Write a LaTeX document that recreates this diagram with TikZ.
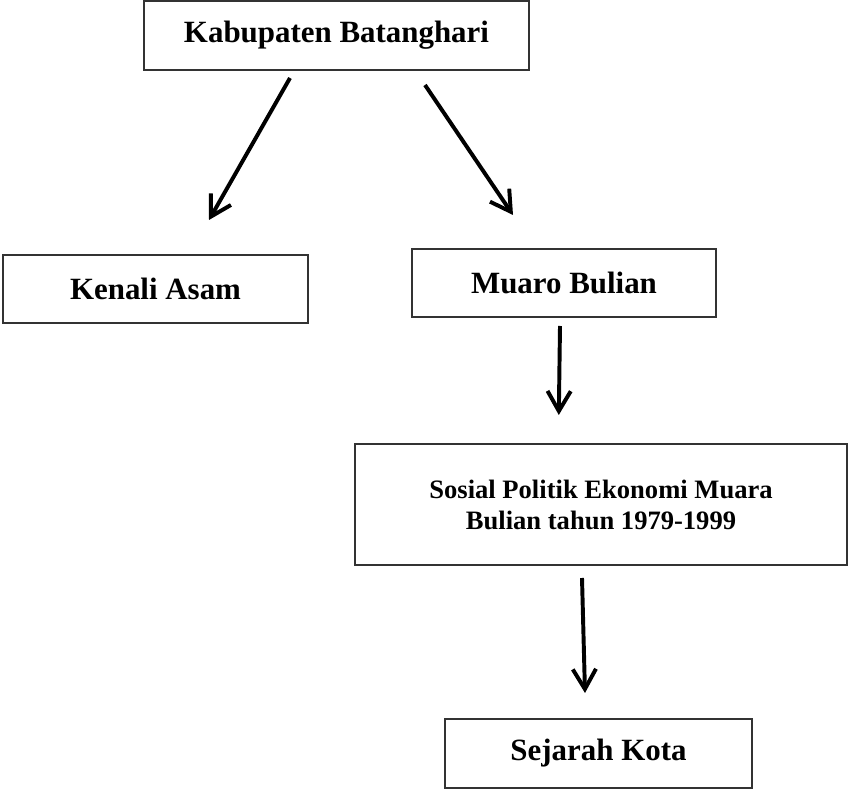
\documentclass[tikz,border=0pt]{standalone}
\usepackage{fontspec}
\setmainfont{Liberation Serif}
\usetikzlibrary{arrows.meta}

\begin{document}
\begin{tikzpicture}[inner sep=0pt,
    kotak/.style={draw=black!80,line width=1.3pt,align=center,
      font=\fontsize{22}{26}\selectfont\bfseries},
    panah/.style={line width=2.8pt,
      -{Straight Barb[length=0.5cm,width=0.58cm]}}]

      % ukuran gambar
      \useasboundingbox (0,0) rectangle (21.25,19.775);

      % kotak-kotak
      \node[kotak,minimum width=9.625cm,minimum height=1.725cm] (kab)
        at (8.4125,18.8875){Kabupaten Batanghari};
      \node[kotak,minimum width=7.625cm,minimum height=1.7cm] (kenali)
        at (3.8875,12.55){Kenali Asam};
      \node[kotak,minimum width=7.6cm,minimum height=1.7cm] (muaro)
        at (14.1,12.7){Muaro Bulian};
      \node[kotak,minimum width=12.3cm,minimum height=3.025cm,%
        font=\fontsize{18.9}{22}\selectfont\bfseries] (sosek)
        at (15.025,7.1625){Sosial Politik Ekonomi Muara\\Bulian tahun 1979-1999};
      \node[kotak,minimum width=7.675cm,minimum height=1.725cm] (sejarah)
        at (14.9625,0.9375){Sejarah Kota};

      % titik ujung panah
      \coordinate (kabKiri) at (7.25,17.825);
      \coordinate (keKenali) at (5.225,14.275);
      \coordinate (kabKanan) at (10.625,17.65);
      \coordinate (keMuaro) at (12.825,14.4);
      \coordinate (muaroBawah) at (14.0,11.625);
      \coordinate (keSosek) at (13.97,9.4);
      \coordinate (sosekBawah) at (14.55,5.325);
      \coordinate (keSejarah) at (14.625,2.45);

      % panah
      \draw[panah] (kabKiri) -- (keKenali);
      \draw[panah] (kabKanan) -- (keMuaro);
      \draw[panah] (muaroBawah) -- (keSosek);
      \draw[panah] (sosekBawah) -- (keSejarah);
    \end{tikzpicture}
\end{document}
